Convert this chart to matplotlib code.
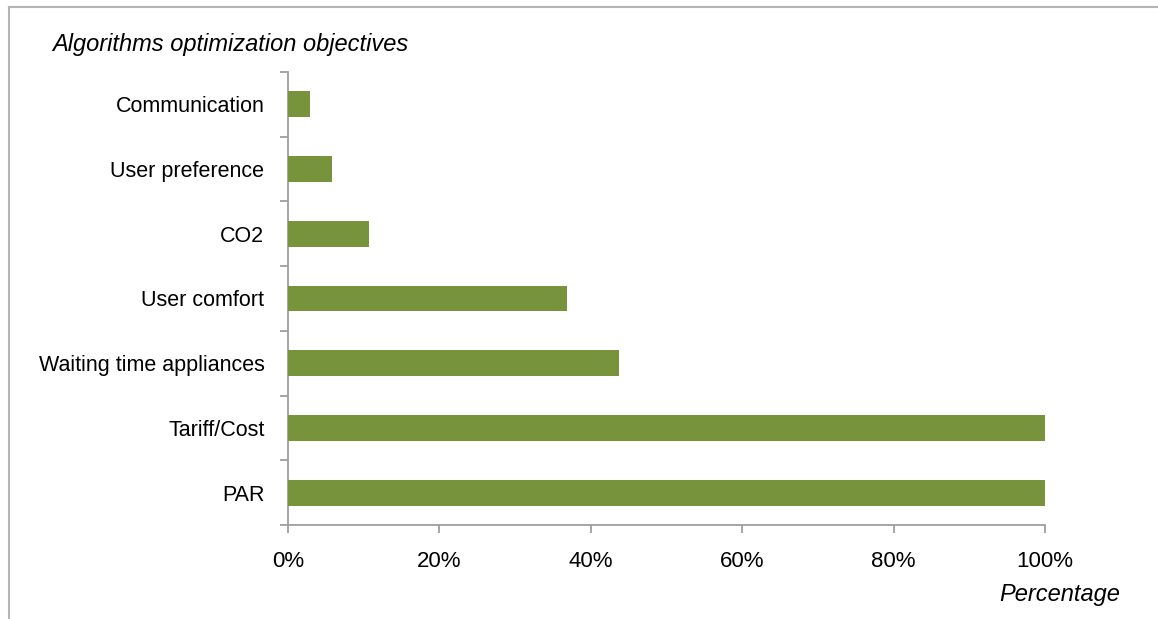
import matplotlib
matplotlib.use("Agg")
import matplotlib.pyplot as plt
from matplotlib.lines import Line2D
import numpy as np

categories = ["PAR", "Tariff/Cost", "Waiting time appliances", "User comfort",
              "CO2", "User preference", "Communication"]
values = [100, 100, 43.7, 36.9, 10.7, 5.8, 2.9]
xticks = [0, 20, 40, 60, 80, 100]
xticklabels = ["0%", "20%", "40%", "60%", "80%", "100%"]

plt.rcParams['font.family'] = ['Liberation Sans', 'DejaVu Sans']

W, H = 1158, 619
fig = plt.figure(figsize=(W / 100, H / 100), dpi=100)
fig.patch.set_facecolor("white")

ax = fig.add_axes([288 / W, 1 - 525 / H, (1045 - 288) / W, (525 - 72) / H])
y = np.arange(len(categories))
ax.barh(y, values, height=0.4, color="#77933C", zorder=3)
ax.set_xlim(0, 100)
ax.set_ylim(-0.5, len(categories) - 0.5)

gray = "#9E9E9E"
for s in ["top", "right"]:
    ax.spines[s].set_visible(False)
for s in ["left", "bottom"]:
    ax.spines[s].set_color(gray)
    ax.spines[s].set_linewidth(1.3)

ax.set_xticks(xticks)
ax.set_xticklabels(xticklabels, fontsize=16)
ax.tick_params(axis="x", direction="out", length=6, width=1.3, color=gray, pad=13)

# category labels at centers, ticks at boundaries
ax.set_yticks(y)
ax.set_yticklabels(categories, fontsize=15.5)
ax.tick_params(axis="y", which="major", length=0, pad=17)
ax.set_yticks(np.arange(-0.5, len(categories), 1.0), minor=True)
ax.tick_params(axis="y", which="minor", direction="out", length=6, width=1.3, color=gray)

fig.text(52 / W, 1 - 45 / H, "Algorithms optimization objectives", fontsize=17,
         style="italic", ha="left", va="center")
fig.text(1120 / W, 1 - 595 / H, "Percentage", fontsize=17, style="italic",
         ha="right", va="center")

# outer border (left and top)
fig.add_artist(Line2D([9 / W, 9 / W], [0, 1 - 7 / H], transform=fig.transFigure,
                      color="#B4B4B4", linewidth=1.5))
fig.add_artist(Line2D([9 / W, 1], [1 - 7 / H, 1 - 7 / H], transform=fig.transFigure,
                      color="#B4B4B4", linewidth=1.5))

fig.savefig("out.png", dpi=100)
